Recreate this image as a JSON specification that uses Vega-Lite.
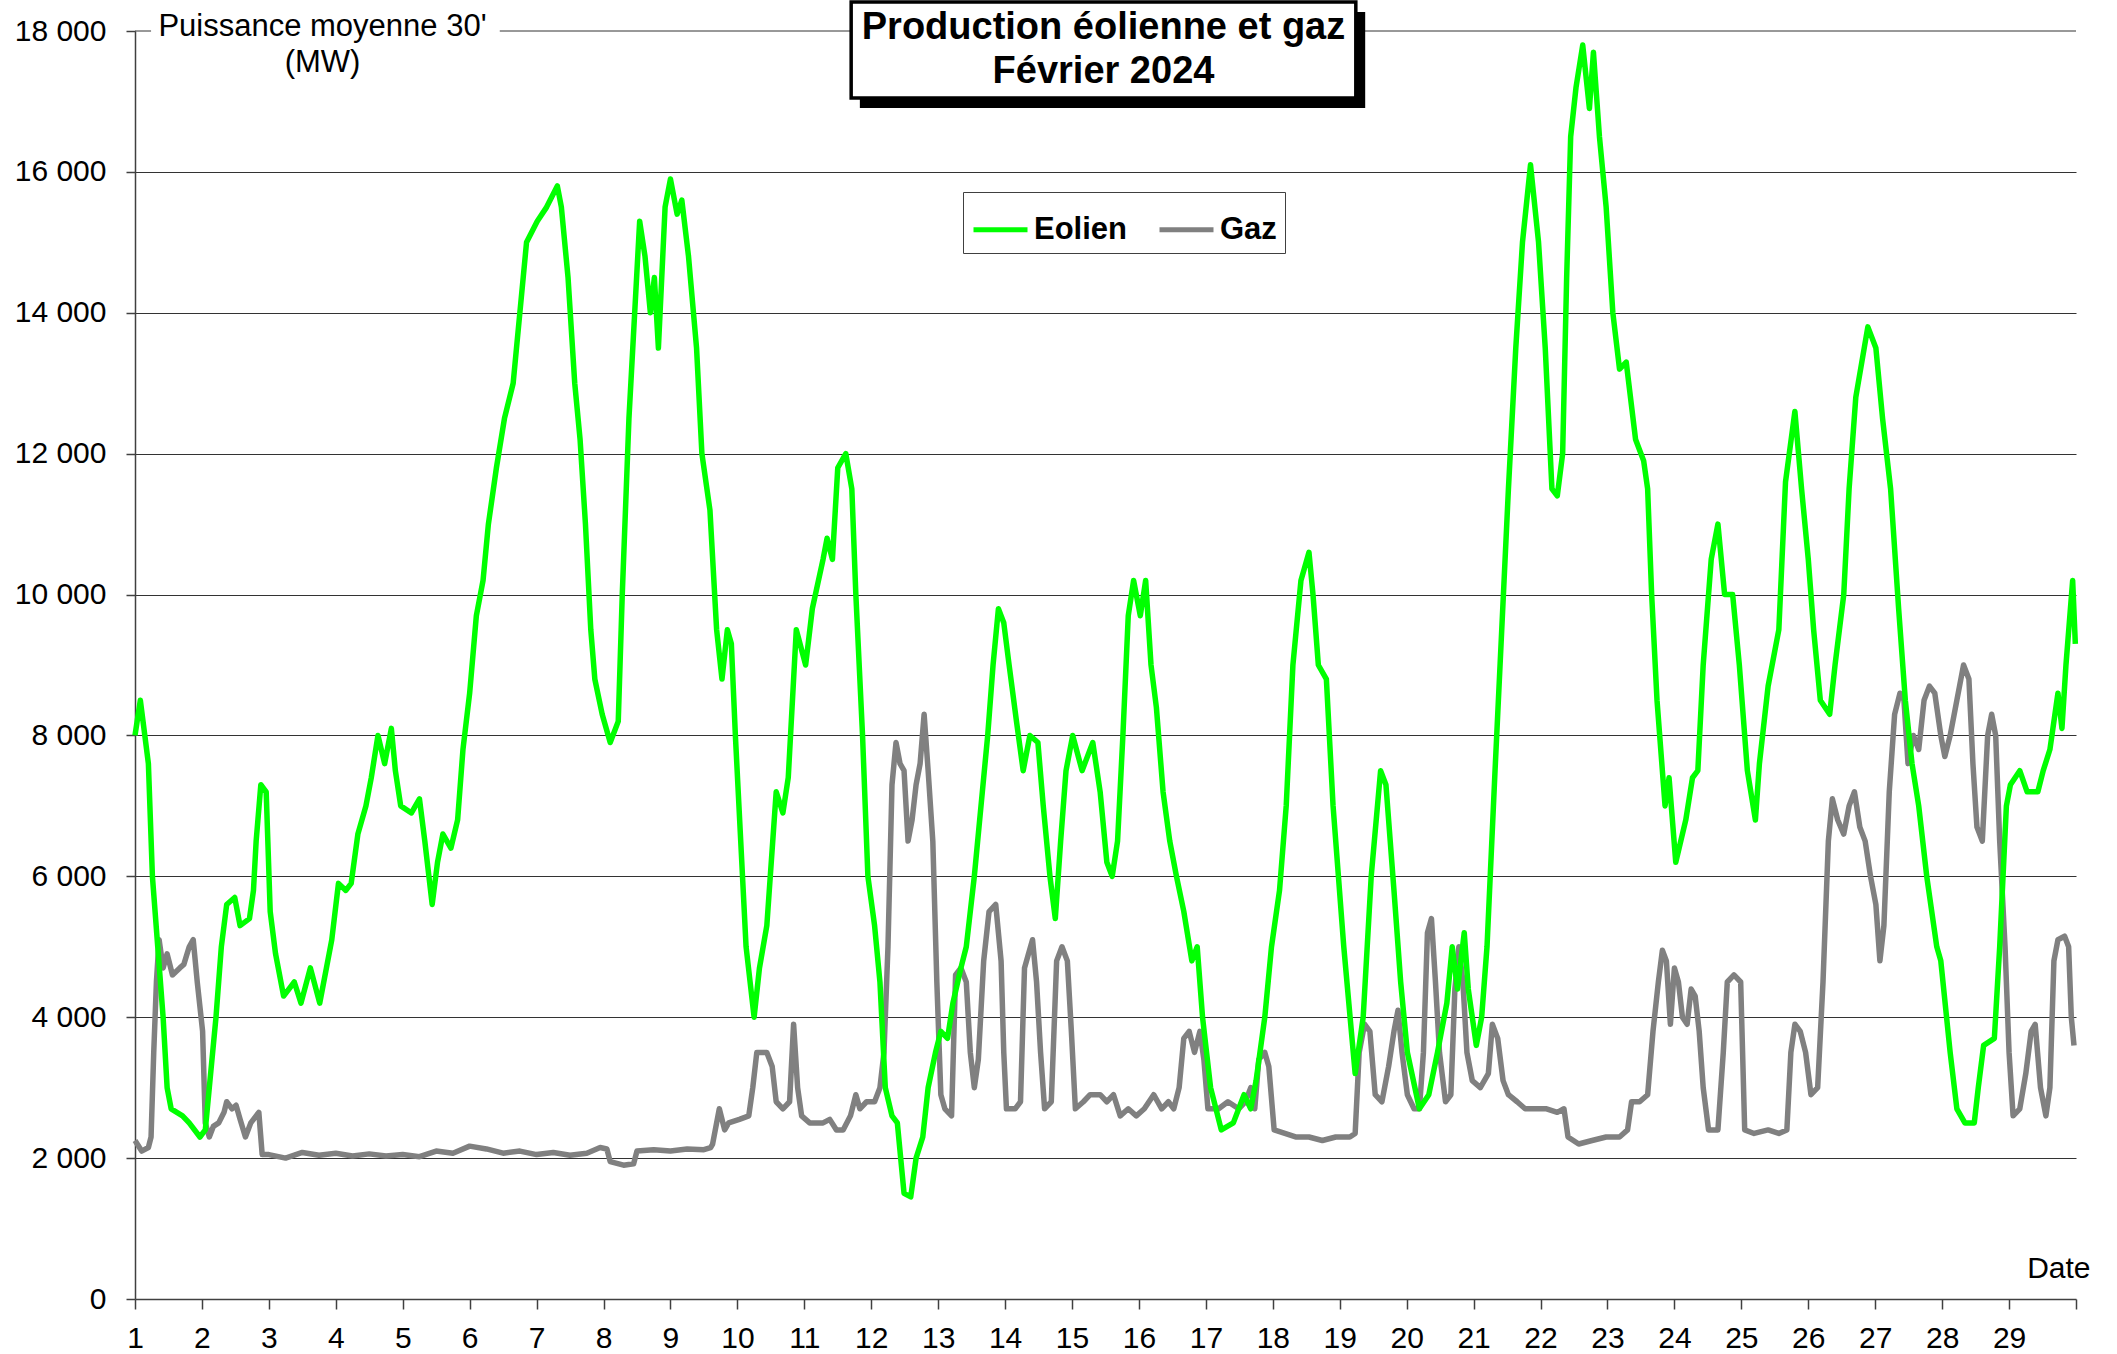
{
  "$schema": "https://vega.github.io/schema/vega-lite/v6.json",
  "width": 1941,
  "height": 1268,
  "autosize": {"type": "none"},
  "padding": {"left": 135, "top": 31, "right": 41, "bottom": 55},
  "background": "white",
  "config": {"font": "Liberation Sans", "view": {"stroke": null}},
  "datasets": {
    "eolien": [
      {"j":1.00,"v":8000},{"j":1.08,"v":8500},{"j":1.20,"v":7600},{"j":1.26,"v":6000},{"j":1.34,"v":5000},{"j":1.42,"v":4000},{"j":1.48,"v":3000},{"j":1.54,"v":2700},{"j":1.71,"v":2600},{"j":1.81,"v":2500},{"j":1.97,"v":2300},{"j":2.05,"v":2400},{"j":2.11,"v":3000},{"j":2.21,"v":4000},{"j":2.29,"v":5000},{"j":2.37,"v":5600},{"j":2.49,"v":5700},{"j":2.57,"v":5300},{"j":2.71,"v":5400},{"j":2.77,"v":5800},{"j":2.81,"v":6500},{"j":2.88,"v":7300},{"j":2.96,"v":7200},{"j":3.02,"v":5500},{"j":3.10,"v":4900},{"j":3.22,"v":4300},{"j":3.38,"v":4500},{"j":3.48,"v":4200},{"j":3.62,"v":4700},{"j":3.76,"v":4200},{"j":3.86,"v":4700},{"j":3.94,"v":5100},{"j":4.04,"v":5900},{"j":4.15,"v":5800},{"j":4.23,"v":5900},{"j":4.33,"v":6600},{"j":4.45,"v":7000},{"j":4.53,"v":7400},{"j":4.63,"v":8000},{"j":4.73,"v":7600},{"j":4.83,"v":8100},{"j":4.89,"v":7500},{"j":4.97,"v":7000},{"j":5.13,"v":6900},{"j":5.25,"v":7100},{"j":5.33,"v":6500},{"j":5.44,"v":5600},{"j":5.52,"v":6200},{"j":5.60,"v":6600},{"j":5.72,"v":6400},{"j":5.82,"v":6800},{"j":5.90,"v":7800},{"j":6.00,"v":8600},{"j":6.10,"v":9700},{"j":6.20,"v":10200},{"j":6.28,"v":11000},{"j":6.40,"v":11800},{"j":6.52,"v":12500},{"j":6.65,"v":13000},{"j":6.75,"v":14000},{"j":6.85,"v":15000},{"j":7.01,"v":15300},{"j":7.15,"v":15500},{"j":7.31,"v":15800},{"j":7.37,"v":15500},{"j":7.47,"v":14500},{"j":7.57,"v":13000},{"j":7.65,"v":12200},{"j":7.73,"v":11000},{"j":7.81,"v":9500},{"j":7.87,"v":8800},{"j":7.98,"v":8300},{"j":8.10,"v":7900},{"j":8.22,"v":8200},{"j":8.28,"v":10000},{"j":8.38,"v":12500},{"j":8.54,"v":15300},{"j":8.62,"v":14800},{"j":8.70,"v":14000},{"j":8.76,"v":14500},{"j":8.82,"v":13500},{"j":8.92,"v":15500},{"j":9.00,"v":15900},{"j":9.10,"v":15400},{"j":9.17,"v":15600},{"j":9.27,"v":14800},{"j":9.39,"v":13500},{"j":9.47,"v":12000},{"j":9.59,"v":11200},{"j":9.69,"v":9500},{"j":9.77,"v":8800},{"j":9.85,"v":9500},{"j":9.91,"v":9300},{"j":9.97,"v":8000},{"j":10.05,"v":6500},{"j":10.13,"v":5000},{"j":10.25,"v":4000},{"j":10.33,"v":4700},{"j":10.44,"v":5300},{"j":10.58,"v":7200},{"j":10.68,"v":6900},{"j":10.76,"v":7400},{"j":10.88,"v":9500},{"j":11.02,"v":9000},{"j":11.12,"v":9800},{"j":11.28,"v":10500},{"j":11.34,"v":10800},{"j":11.42,"v":10500},{"j":11.50,"v":11800},{"j":11.62,"v":12000},{"j":11.71,"v":11500},{"j":11.77,"v":10000},{"j":11.87,"v":8000},{"j":11.95,"v":6000},{"j":12.05,"v":5300},{"j":12.13,"v":4500},{"j":12.21,"v":3000},{"j":12.31,"v":2600},{"j":12.39,"v":2500},{"j":12.49,"v":1500},{"j":12.59,"v":1450},{"j":12.67,"v":2000},{"j":12.77,"v":2300},{"j":12.85,"v":3000},{"j":12.96,"v":3500},{"j":13.04,"v":3800},{"j":13.14,"v":3700},{"j":13.22,"v":4200},{"j":13.34,"v":4700},{"j":13.42,"v":5000},{"j":13.54,"v":6000},{"j":13.66,"v":7200},{"j":13.74,"v":8000},{"j":13.82,"v":9000},{"j":13.90,"v":9800},{"j":13.98,"v":9600},{"j":14.06,"v":9000},{"j":14.17,"v":8200},{"j":14.27,"v":7500},{"j":14.37,"v":8000},{"j":14.49,"v":7900},{"j":14.57,"v":7000},{"j":14.67,"v":6000},{"j":14.75,"v":5400},{"j":14.83,"v":6500},{"j":14.91,"v":7500},{"j":15.01,"v":8000},{"j":15.15,"v":7500},{"j":15.31,"v":7900},{"j":15.42,"v":7200},{"j":15.52,"v":6200},{"j":15.60,"v":6000},{"j":15.68,"v":6500},{"j":15.76,"v":8000},{"j":15.84,"v":9700},{"j":15.92,"v":10200},{"j":16.02,"v":9700},{"j":16.10,"v":10200},{"j":16.18,"v":9000},{"j":16.26,"v":8400},{"j":16.36,"v":7200},{"j":16.46,"v":6500},{"j":16.56,"v":6000},{"j":16.67,"v":5500},{"j":16.79,"v":4800},{"j":16.87,"v":5000},{"j":16.95,"v":4000},{"j":17.07,"v":3000},{"j":17.23,"v":2400},{"j":17.41,"v":2500},{"j":17.57,"v":2900},{"j":17.67,"v":2700},{"j":17.75,"v":3100},{"j":17.88,"v":4000},{"j":17.98,"v":5000},{"j":18.10,"v":5800},{"j":18.20,"v":7000},{"j":18.30,"v":9000},{"j":18.42,"v":10200},{"j":18.54,"v":10600},{"j":18.60,"v":10000},{"j":18.68,"v":9000},{"j":18.80,"v":8800},{"j":18.90,"v":7000},{"j":19.06,"v":5000},{"j":19.23,"v":3200},{"j":19.35,"v":4000},{"j":19.47,"v":6000},{"j":19.61,"v":7500},{"j":19.69,"v":7300},{"j":19.81,"v":5800},{"j":19.91,"v":4500},{"j":20.01,"v":3500},{"j":20.19,"v":2700},{"j":20.33,"v":2900},{"j":20.46,"v":3500},{"j":20.60,"v":4200},{"j":20.68,"v":5000},{"j":20.76,"v":4400},{"j":20.86,"v":5200},{"j":20.92,"v":4400},{"j":21.04,"v":3600},{"j":21.12,"v":4000},{"j":21.20,"v":5000},{"j":21.32,"v":7500},{"j":21.42,"v":9500},{"j":21.52,"v":11500},{"j":21.63,"v":13500},{"j":21.73,"v":15000},{"j":21.85,"v":16100},{"j":21.97,"v":15000},{"j":22.07,"v":13500},{"j":22.17,"v":11500},{"j":22.25,"v":11400},{"j":22.33,"v":12000},{"j":22.39,"v":14500},{"j":22.45,"v":16500},{"j":22.53,"v":17200},{"j":22.63,"v":17800},{"j":22.73,"v":16900},{"j":22.79,"v":17700},{"j":22.88,"v":16500},{"j":22.98,"v":15500},{"j":23.08,"v":14000},{"j":23.18,"v":13200},{"j":23.28,"v":13300},{"j":23.42,"v":12200},{"j":23.54,"v":11900},{"j":23.60,"v":11500},{"j":23.66,"v":10000},{"j":23.74,"v":8500},{"j":23.86,"v":7000},{"j":23.92,"v":7400},{"j":24.02,"v":6200},{"j":24.17,"v":6800},{"j":24.27,"v":7400},{"j":24.35,"v":7500},{"j":24.43,"v":9000},{"j":24.55,"v":10500},{"j":24.65,"v":11000},{"j":24.75,"v":10000},{"j":24.87,"v":10000},{"j":24.97,"v":9000},{"j":25.09,"v":7500},{"j":25.21,"v":6800},{"j":25.27,"v":7600},{"j":25.40,"v":8700},{"j":25.56,"v":9500},{"j":25.66,"v":11600},{"j":25.80,"v":12600},{"j":25.90,"v":11500},{"j":26.00,"v":10500},{"j":26.08,"v":9500},{"j":26.18,"v":8500},{"j":26.32,"v":8300},{"j":26.40,"v":9000},{"j":26.53,"v":10000},{"j":26.61,"v":11500},{"j":26.71,"v":12800},{"j":26.89,"v":13800},{"j":27.01,"v":13500},{"j":27.11,"v":12500},{"j":27.23,"v":11500},{"j":27.35,"v":9800},{"j":27.45,"v":8500},{"j":27.55,"v":7600},{"j":27.65,"v":7000},{"j":27.77,"v":6000},{"j":27.92,"v":5000},{"j":27.98,"v":4800},{"j":28.12,"v":3500},{"j":28.22,"v":2700},{"j":28.34,"v":2500},{"j":28.48,"v":2500},{"j":28.54,"v":3000},{"j":28.62,"v":3600},{"j":28.78,"v":3700},{"j":28.86,"v":5000},{"j":28.96,"v":7000},{"j":29.02,"v":7300},{"j":29.16,"v":7500},{"j":29.27,"v":7200},{"j":29.43,"v":7200},{"j":29.51,"v":7500},{"j":29.61,"v":7800},{"j":29.67,"v":8200},{"j":29.73,"v":8600},{"j":29.79,"v":8100},{"j":29.85,"v":9000},{"j":29.95,"v":10200},{"j":29.99,"v":9300}
    ],
    "gaz": [
      {"j":1.00,"v":2250},{"j":1.10,"v":2100},{"j":1.20,"v":2150},{"j":1.24,"v":2300},{"j":1.28,"v":3500},{"j":1.32,"v":4500},{"j":1.36,"v":5100},{"j":1.42,"v":4700},{"j":1.48,"v":4900},{"j":1.56,"v":4600},{"j":1.67,"v":4700},{"j":1.73,"v":4750},{"j":1.81,"v":5000},{"j":1.87,"v":5100},{"j":1.93,"v":4500},{"j":2.01,"v":3800},{"j":2.05,"v":2500},{"j":2.11,"v":2300},{"j":2.17,"v":2450},{"j":2.25,"v":2500},{"j":2.33,"v":2650},{"j":2.37,"v":2800},{"j":2.45,"v":2700},{"j":2.51,"v":2750},{"j":2.57,"v":2550},{"j":2.65,"v":2300},{"j":2.73,"v":2500},{"j":2.81,"v":2600},{"j":2.85,"v":2650},{"j":2.90,"v":2050},{"j":3.00,"v":2050},{"j":3.25,"v":2000},{"j":3.50,"v":2080},{"j":3.75,"v":2040},{"j":4.00,"v":2070},{"j":4.25,"v":2030},{"j":4.50,"v":2060},{"j":4.75,"v":2030},{"j":5.00,"v":2050},{"j":5.25,"v":2020},{"j":5.50,"v":2100},{"j":5.75,"v":2070},{"j":6.00,"v":2170},{"j":6.25,"v":2130},{"j":6.50,"v":2070},{"j":6.75,"v":2100},{"j":7.00,"v":2050},{"j":7.25,"v":2080},{"j":7.50,"v":2040},{"j":7.75,"v":2070},{"j":7.95,"v":2150},{"j":8.05,"v":2130},{"j":8.10,"v":1950},{"j":8.30,"v":1900},{"j":8.45,"v":1920},{"j":8.50,"v":2100},{"j":8.75,"v":2120},{"j":9.00,"v":2100},{"j":9.25,"v":2130},{"j":9.50,"v":2120},{"j":9.60,"v":2150},{"j":9.63,"v":2200},{"j":9.73,"v":2700},{"j":9.81,"v":2400},{"j":9.87,"v":2500},{"j":10.03,"v":2550},{"j":10.17,"v":2600},{"j":10.23,"v":3000},{"j":10.29,"v":3500},{"j":10.44,"v":3500},{"j":10.52,"v":3300},{"j":10.58,"v":2800},{"j":10.68,"v":2700},{"j":10.78,"v":2800},{"j":10.84,"v":3900},{"j":10.90,"v":3000},{"j":10.96,"v":2600},{"j":11.08,"v":2500},{"j":11.28,"v":2500},{"j":11.38,"v":2550},{"j":11.48,"v":2400},{"j":11.58,"v":2400},{"j":11.69,"v":2600},{"j":11.77,"v":2900},{"j":11.83,"v":2700},{"j":11.93,"v":2800},{"j":12.05,"v":2800},{"j":12.13,"v":3000},{"j":12.19,"v":3500},{"j":12.25,"v":5000},{"j":12.31,"v":7300},{"j":12.37,"v":7900},{"j":12.43,"v":7600},{"j":12.49,"v":7500},{"j":12.55,"v":6500},{"j":12.61,"v":6800},{"j":12.67,"v":7300},{"j":12.73,"v":7600},{"j":12.79,"v":8300},{"j":12.85,"v":7500},{"j":12.92,"v":6500},{"j":12.98,"v":4500},{"j":13.04,"v":2900},{"j":13.10,"v":2700},{"j":13.20,"v":2600},{"j":13.26,"v":4600},{"j":13.34,"v":4700},{"j":13.42,"v":4500},{"j":13.48,"v":3500},{"j":13.54,"v":3000},{"j":13.60,"v":3400},{"j":13.68,"v":4800},{"j":13.76,"v":5500},{"j":13.86,"v":5600},{"j":13.94,"v":4800},{"j":13.98,"v":3500},{"j":14.02,"v":2700},{"j":14.15,"v":2700},{"j":14.23,"v":2800},{"j":14.29,"v":4700},{"j":14.35,"v":4900},{"j":14.41,"v":5100},{"j":14.47,"v":4500},{"j":14.53,"v":3500},{"j":14.59,"v":2700},{"j":14.69,"v":2800},{"j":14.77,"v":4800},{"j":14.85,"v":5000},{"j":14.93,"v":4800},{"j":14.99,"v":3800},{"j":15.05,"v":2700},{"j":15.17,"v":2800},{"j":15.27,"v":2900},{"j":15.42,"v":2900},{"j":15.52,"v":2800},{"j":15.62,"v":2900},{"j":15.72,"v":2600},{"j":15.84,"v":2700},{"j":15.96,"v":2600},{"j":16.08,"v":2700},{"j":16.22,"v":2900},{"j":16.34,"v":2700},{"j":16.44,"v":2800},{"j":16.52,"v":2700},{"j":16.60,"v":3000},{"j":16.67,"v":3700},{"j":16.75,"v":3800},{"j":16.83,"v":3500},{"j":16.91,"v":3800},{"j":16.97,"v":3400},{"j":17.03,"v":2700},{"j":17.19,"v":2700},{"j":17.33,"v":2800},{"j":17.49,"v":2700},{"j":17.59,"v":2800},{"j":17.67,"v":3000},{"j":17.73,"v":2700},{"j":17.79,"v":3400},{"j":17.88,"v":3500},{"j":17.94,"v":3300},{"j":18.02,"v":2400},{"j":18.18,"v":2350},{"j":18.34,"v":2300},{"j":18.54,"v":2300},{"j":18.74,"v":2250},{"j":18.94,"v":2300},{"j":19.15,"v":2300},{"j":19.23,"v":2350},{"j":19.29,"v":3500},{"j":19.37,"v":3900},{"j":19.45,"v":3800},{"j":19.53,"v":2900},{"j":19.63,"v":2800},{"j":19.73,"v":3300},{"j":19.81,"v":3800},{"j":19.87,"v":4100},{"j":19.93,"v":3500},{"j":20.01,"v":2900},{"j":20.11,"v":2700},{"j":20.19,"v":2700},{"j":20.25,"v":3500},{"j":20.31,"v":5200},{"j":20.37,"v":5400},{"j":20.43,"v":4500},{"j":20.49,"v":3500},{"j":20.58,"v":2800},{"j":20.66,"v":2900},{"j":20.72,"v":4400},{"j":20.78,"v":5000},{"j":20.84,"v":4500},{"j":20.90,"v":3500},{"j":20.98,"v":3100},{"j":21.10,"v":3000},{"j":21.22,"v":3200},{"j":21.28,"v":3900},{"j":21.36,"v":3700},{"j":21.44,"v":3100},{"j":21.52,"v":2900},{"j":21.65,"v":2800},{"j":21.77,"v":2700},{"j":21.93,"v":2700},{"j":22.09,"v":2700},{"j":22.25,"v":2650},{"j":22.35,"v":2700},{"j":22.41,"v":2300},{"j":22.57,"v":2200},{"j":22.77,"v":2250},{"j":22.98,"v":2300},{"j":23.18,"v":2300},{"j":23.30,"v":2400},{"j":23.36,"v":2800},{"j":23.48,"v":2800},{"j":23.60,"v":2900},{"j":23.68,"v":3800},{"j":23.76,"v":4500},{"j":23.82,"v":4950},{"j":23.88,"v":4800},{"j":23.94,"v":3900},{"j":24.00,"v":4700},{"j":24.06,"v":4500},{"j":24.12,"v":4000},{"j":24.19,"v":3900},{"j":24.25,"v":4400},{"j":24.31,"v":4300},{"j":24.37,"v":3800},{"j":24.43,"v":3000},{"j":24.51,"v":2400},{"j":24.65,"v":2400},{"j":24.73,"v":3500},{"j":24.79,"v":4500},{"j":24.89,"v":4600},{"j":24.99,"v":4500},{"j":25.05,"v":2400},{"j":25.19,"v":2350},{"j":25.40,"v":2400},{"j":25.56,"v":2350},{"j":25.68,"v":2400},{"j":25.74,"v":3500},{"j":25.80,"v":3900},{"j":25.88,"v":3800},{"j":25.96,"v":3500},{"j":26.04,"v":2900},{"j":26.14,"v":3000},{"j":26.22,"v":4500},{"j":26.30,"v":6500},{"j":26.36,"v":7100},{"j":26.44,"v":6800},{"j":26.53,"v":6600},{"j":26.61,"v":7000},{"j":26.69,"v":7200},{"j":26.77,"v":6700},{"j":26.85,"v":6500},{"j":26.93,"v":6000},{"j":27.01,"v":5600},{"j":27.07,"v":4800},{"j":27.13,"v":5300},{"j":27.21,"v":7200},{"j":27.29,"v":8300},{"j":27.37,"v":8600},{"j":27.43,"v":8500},{"j":27.49,"v":7600},{"j":27.57,"v":8000},{"j":27.65,"v":7800},{"j":27.73,"v":8500},{"j":27.81,"v":8700},{"j":27.89,"v":8600},{"j":27.98,"v":8000},{"j":28.04,"v":7700},{"j":28.12,"v":8000},{"j":28.22,"v":8500},{"j":28.32,"v":9000},{"j":28.40,"v":8800},{"j":28.46,"v":7600},{"j":28.52,"v":6700},{"j":28.60,"v":6500},{"j":28.68,"v":8000},{"j":28.74,"v":8300},{"j":28.80,"v":8000},{"j":28.86,"v":6500},{"j":28.94,"v":5000},{"j":29.00,"v":3500},{"j":29.06,"v":2600},{"j":29.16,"v":2700},{"j":29.25,"v":3200},{"j":29.33,"v":3800},{"j":29.39,"v":3900},{"j":29.47,"v":3000},{"j":29.55,"v":2600},{"j":29.61,"v":3000},{"j":29.67,"v":4800},{"j":29.73,"v":5100},{"j":29.83,"v":5150},{"j":29.89,"v":5000},{"j":29.93,"v":4000},{"j":29.97,"v":3600}
    ]
  },
  "layer": [
    {
      "data": {"values": [{}]},
      "mark": {"type": "rule", "color": "#333333", "strokeWidth": 1},
      "encoding": {"x": {"datum": 1}, "x2": {"datum": 1.24}, "y": {"datum": 18000}}
    },
    {
      "data": {"values": [{}]},
      "mark": {"type": "rule", "color": "#333333", "strokeWidth": 1},
      "encoding": {"x": {"datum": 6.45}, "x2": {"datum": 30}, "y": {"datum": 18000}}
    },
    {
      "data": {"values": [{}]},
      "mark": {"type": "rect", "fill": "black"},
      "encoding": {"x": {"datum": 11.83}, "x2": {"datum": 19.38}, "y": {"datum": 18270}, "y2": {"datum": 16907}}
    },
    {
      "data": {"values": [{}]},
      "mark": {"type": "rect", "fill": "white", "stroke": "black", "strokeWidth": 3.5},
      "encoding": {"x": {"datum": 11.70}, "x2": {"datum": 19.24}, "y": {"datum": 18412}, "y2": {"datum": 17049}}
    },
    {
      "data": {"values": [{}]},
      "mark": {"type": "text", "text": ["Production éolienne et gaz", "Février 2024"], "font": "Liberation Sans", "fontSize": 38, "fontWeight": "bold", "align": "center", "baseline": "alphabetic", "lineHeight": 44, "color": "black"},
      "encoding": {"x": {"datum": 15.47}, "y": {"datum": 17887}}
    },
    {
      "data": {"name": "gaz"},
      "mark": {"type": "line", "strokeWidth": 5.5, "strokeJoin": "round"},
      "encoding": {
        "x": {
          "field": "j", "type": "quantitative",
          "scale": {"domain": [1, 30], "nice": false, "zero": false},
          "axis": {
            "values": [1,1.5,2,2.5,3,3.5,4,4.5,5,5.5,6,6.5,7,7.5,8,8.5,9,9.5,10,10.5,11,11.5,12,12.5,13,13.5,14,14.5,15,15.5,16,16.5,17,17.5,18,18.5,19,19.5,20,20.5,21,21.5,22,22.5,23,23.5,24,24.5,25,25.5,26,26.5,27,27.5,28,28.5,29,29.5,30],
            "labelExpr": "datum.value % 1 === 0 && datum.value < 30 ? format(datum.value, 'd') : ''",
            "labelFontSize": 30, "labelColor": "black", "labelPadding": 14, "labelFlush": false, "labelOverlap": false,
            "tickSize": {"condition": {"test": "datum.value % 1 !== 0", "value": -10}, "value": 10},
            "tickColor": "#404040", "tickWidth": 1.5,
            "domainColor": "#404040", "domainWidth": 1.5,
            "grid": false,
            "title": "Date", "titleX": 1955, "titleY": -22, "titleAlign": "right", "titleBaseline": "alphabetic",
            "titleFontSize": 30, "titleFontWeight": "normal", "titleColor": "black"
          }
        },
        "y": {
          "field": "v", "type": "quantitative",
          "scale": {"domain": [0, 18000], "nice": false},
          "axis": {
            "values": [0,2000,4000,6000,8000,10000,12000,14000,16000,18000],
            "labelExpr": "replace(format(datum.value, ','), ',', ' ')",
            "labelFontSize": 30, "labelColor": "black", "labelPadding": 20,
            "tickSize": 9, "tickColor": "#404040", "tickWidth": 1.5,
            "domainColor": "#404040", "domainWidth": 1.5,
            "grid": true,
            "gridColor": {"condition": {"test": "datum.value >= 18000 || datum.value <= 0", "value": "transparent"}, "value": "#333333"},
            "gridWidth": 1,
            "title": ["Puissance moyenne 30'", "(MW)"], "titleAngle": 0, "titleX": 187, "titleY": 4,
            "titleAlign": "center", "titleBaseline": "alphabetic", "titleFontSize": 31, "titleFontWeight": "normal",
            "titleLineHeight": 36, "titleColor": "black"
          }
        },
        "color": {
          "datum": "Gaz",
          "scale": {"domain": ["Eolien", "Gaz"], "range": ["#00ff00", "#808080"]},
          "legend": {
            "title": null, "orient": "none", "legendX": 828, "legendY": 161, "direction": "horizontal",
            "symbolType": "stroke", "symbolSize": 2916, "symbolStrokeWidth": 5,
            "labelFontSize": 31, "labelFontWeight": "bold", "labelColor": "black", "labelOffset": 4,
            "columnPadding": 21, "padding": 8, "strokeColor": "#404040", "fillColor": "white"
          }
        }
      }
    },
    {
      "data": {"name": "eolien"},
      "mark": {"type": "line", "strokeWidth": 5.5, "strokeJoin": "round"},
      "encoding": {
        "x": {"field": "j", "type": "quantitative", "scale": {"domain": [1, 30], "nice": false, "zero": false}},
        "y": {"field": "v", "type": "quantitative", "scale": {"domain": [0, 18000], "nice": false}},
        "color": {"datum": "Eolien"}
      }
    }
  ]
}
